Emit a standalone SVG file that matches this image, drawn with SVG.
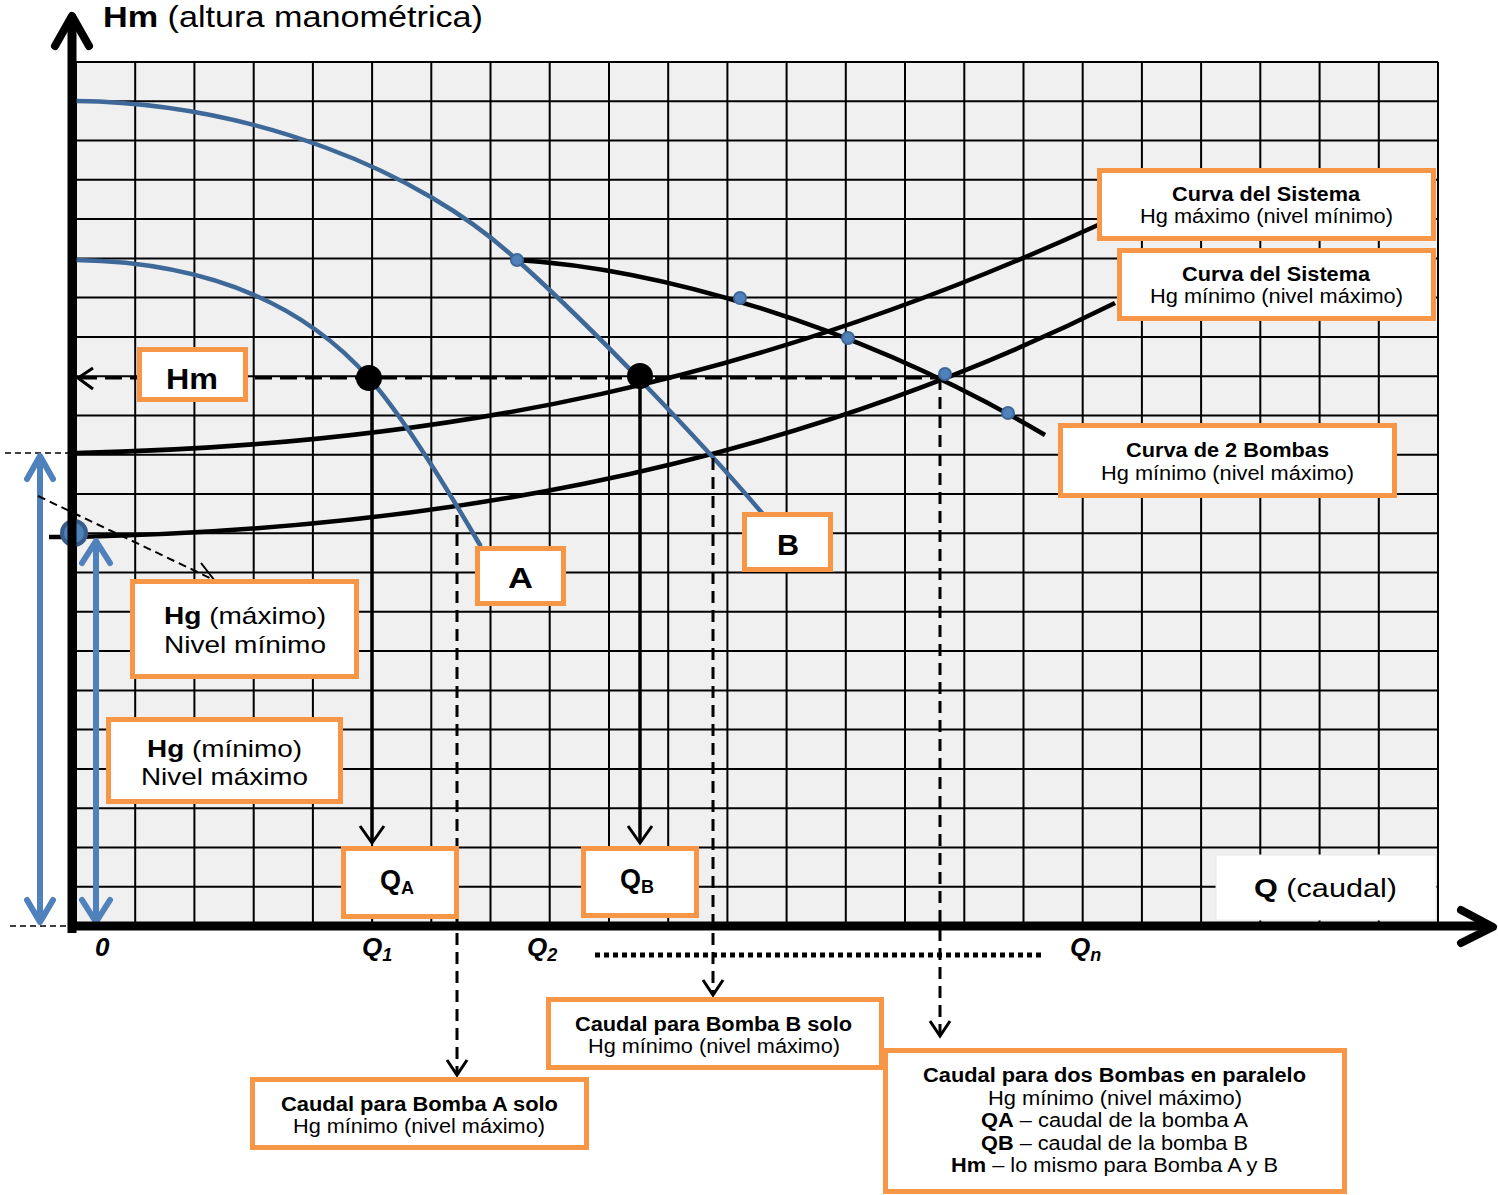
<svg xmlns="http://www.w3.org/2000/svg" width="1498" height="1195" viewBox="0 0 1498 1195">
<style>
.gl{stroke:#000;stroke-width:2;fill:none}
.pump{stroke:#3e6897;stroke-width:4.5;fill:none;stroke-linecap:round}
.sys{stroke:#000;stroke-width:4.5;fill:none}
.box{fill:#fff;stroke:#f79646;stroke-width:5}
.t{font-family:"Liberation Sans",Arial,Helvetica,sans-serif;fill:#000}
.b{font-weight:bold}
.i{font-style:italic}
.ax{stroke:#000;stroke-width:9;fill:none}
.axh{stroke:#000;stroke-width:8;fill:none;stroke-linecap:round;stroke-linejoin:round}
.dash{stroke:#000;stroke-width:3;fill:none;stroke-dasharray:12 7}
.sol{stroke:#000;stroke-width:3.5;fill:none}
.head{stroke:#000;stroke-width:3;fill:none;stroke-linejoin:miter}
.blue{stroke:#4f81bd;stroke-width:6;fill:none}
.bhead{stroke:#4f81bd;stroke-width:6;fill:none;stroke-linecap:round;stroke-linejoin:round}
.thin{stroke:#000;stroke-width:1.5;fill:none;stroke-dasharray:6 4}
.dot{fill:#4f81bd;stroke:#3e6897;stroke-width:2}
</style>
<rect width="1498" height="1195" fill="#fff"/>
<g id="grid">
<rect x="76" y="62" width="1362" height="864" fill="#f0f0f0"/>
<path class="gl" d="M76,62V926M135.2,62V926M194.4,62V926M253.7,62V926M312.9,62V926M372.1,62V926M431.3,62V926M490.5,62V926M549.7,62V926M609,62V926M668.2,62V926M727.4,62V926M786.6,62V926M845.8,62V926M905,62V926M964.3,62V926M1023.5,62V926M1082.7,62V926M1141.9,62V926M1201.1,62V926M1260.3,62V926M1319.6,62V926M1378.8,62V926M1438,62V926"/>
<path class="gl" d="M76,62H1438M76,101.3H1438M76,140.5H1438M76,179.8H1438M76,219.1H1438M76,258.4H1438M76,297.6H1438M76,336.9H1438M76,376.2H1438M76,415.5H1438M76,454.7H1438M76,494H1438M76,533.3H1438M76,572.5H1438M76,611.8H1438M76,651.1H1438M76,690.4H1438M76,729.6H1438M76,768.9H1438M76,808.2H1438M76,847.5H1438M76,886.7H1438"/>
</g>
<g id="q-caudal">
<rect x="1216" y="855" width="220" height="65" fill="#fff" stroke="#e8e8e8" stroke-width="1"/>
<text class="t" x="1254" y="897" font-size="26" textLength="143" lengthAdjust="spacingAndGlyphs"><tspan class="b">Q</tspan> (caudal)</text>
</g>
<g id="curves">
<path id="curve-sys-max" class="sys" d="M76,453 C450,445 760,380 1098,225"/>
<path id="curve-sys-min" class="sys" d="M49,537 L76,537 C400,530 760,480 1115,303"/>
<path id="curve-pump-b" class="pump" d="M76,101 C250,103 420,170 517,260 C590,325 700,440 762,513"/>
<path id="curve-pump-a" class="pump" d="M76,260 C200,262 300,300 369,378 C400,413 445,485 480,545"/>
<path id="curve-2-bombas" class="sys" d="M517,260 C650,268 850,320 1045,435"/>
</g>
<g id="connectors">
<path class="thin" d="M5,453H70M10,926H70"/>
<path class="blue" d="M40,458V920M96,543V920"/>
<path class="bhead" d="M27,479L40,456L53,479M27,900L40,922L53,900M82,563L96,541L110,563M82,900L96,922L110,900"/>
<path d="M38,496L212,579" stroke="#000" stroke-width="2" stroke-dasharray="8 5" fill="none"/>
<path d="M201,563L215,581L192,582" stroke="#000" stroke-width="2" fill="none"/>
<path d="M80,378H940" stroke="#000" stroke-width="3" stroke-dasharray="17 8" fill="none"/>
<path class="head" d="M93,368L78,378L93,389"/>
<path class="sol" d="M372,378V843M640,376V843"/>
<path class="head" d="M360,826L372,843L384,826M628,826L640,843L652,826"/>
<path class="dash" d="M457,515V1073M713,458V993M940,378V1034"/>
<path class="head" d="M447,1060L457,1075L467,1060M703,980L713,995L723,980M930,1021L940,1036L950,1021"/>
<path d="M595,955H1045" stroke="#000" stroke-width="5" stroke-dasharray="5 4" fill="none"/>
</g>
<g id="points">
<circle cx="74" cy="533" r="12" fill="#4f81bd" stroke="#385d8a" stroke-width="4"/>
<circle class="dot" cx="517" cy="260" r="6"/>
<circle class="dot" cx="740" cy="298" r="6"/>
<circle class="dot" cx="848" cy="338" r="6"/>
<circle class="dot" cx="945" cy="374" r="6"/>
<circle class="dot" cx="1008" cy="413" r="6"/>
<circle cx="369" cy="378" r="13" fill="#000"/>
<circle cx="640" cy="376" r="13" fill="#000"/>
</g>
<g id="axes">
<path class="ax" d="M72,20V933M68,926H1488"/>
<path class="axh" d="M55,46L72,16L89,46M1461,910L1493,927L1461,943"/>
<text class="t" x="103" y="27" font-size="30" textLength="380" lengthAdjust="spacingAndGlyphs"><tspan class="b">Hm</tspan> (altura manométrica)</text>
<text class="t b i" x="95" y="956" font-size="26">0</text>
<text class="t b i" x="362" y="956" font-size="26">Q<tspan font-size="18" dy="5">1</tspan></text>
<text class="t b i" x="527" y="956" font-size="26">Q<tspan font-size="18" dy="5">2</tspan></text>
<text class="t b i" x="1070" y="956" font-size="26">Q<tspan font-size="18" dy="5">n</tspan></text>
</g>
<g id="box-hm">
<rect class="box" x="139.5" y="349.5" width="106" height="50"/>
<text class="t b" x="166" y="389" font-size="30" textLength="52" lengthAdjust="spacingAndGlyphs">Hm</text>
</g>
<g id="box-hg-max">
<rect class="box" x="132.5" y="581.5" width="224" height="95"/>
<text class="t" x="164" y="624" font-size="24" textLength="162" lengthAdjust="spacingAndGlyphs"><tspan class="b">Hg</tspan> (máximo)</text>
<text class="t" x="164" y="653" font-size="24" textLength="162" lengthAdjust="spacingAndGlyphs">Nivel mínimo</text>
</g>
<g id="box-hg-min">
<rect class="box" x="108.5" y="719.5" width="232" height="82"/>
<text class="t" x="147" y="757" font-size="24" textLength="155" lengthAdjust="spacingAndGlyphs"><tspan class="b">Hg</tspan> (mínimo)</text>
<text class="t" x="141" y="785" font-size="24" textLength="167" lengthAdjust="spacingAndGlyphs">Nivel máximo</text>
</g>
<g id="box-a">
<rect class="box" x="477.5" y="548.5" width="86" height="55"/>
<text class="t b" x="508" y="588" font-size="29" textLength="25" lengthAdjust="spacingAndGlyphs">A</text>
</g>
<g id="box-b">
<rect class="box" x="744.5" y="514.5" width="86" height="55"/>
<text class="t b" x="777" y="555" font-size="29" textLength="22" lengthAdjust="spacingAndGlyphs">B</text>
</g>
<g id="box-qa">
<rect class="box" x="343.5" y="848.5" width="113" height="68"/>
<text class="t b" x="380" y="889" font-size="27">Q<tspan font-size="18" dy="5">A</tspan></text>
</g>
<g id="box-qb">
<rect class="box" x="583.5" y="848.5" width="113" height="67"/>
<text class="t b" x="620" y="888" font-size="27">Q<tspan font-size="18" dy="5">B</tspan></text>
</g>
<g id="box-sistema-max">
<rect class="box" x="1099.5" y="170.5" width="334" height="68"/>
<text class="t b" x="1172" y="201" font-size="19.5" textLength="188" lengthAdjust="spacingAndGlyphs">Curva del Sistema</text>
<text class="t" x="1140" y="223" font-size="19.5" textLength="253" lengthAdjust="spacingAndGlyphs">Hg máximo (nivel mínimo)</text>
</g>
<g id="box-sistema-min">
<rect class="box" x="1119.5" y="250.5" width="314" height="68"/>
<text class="t b" x="1182" y="281" font-size="19.5" textLength="188" lengthAdjust="spacingAndGlyphs">Curva del Sistema</text>
<text class="t" x="1150" y="303" font-size="19.5" textLength="253" lengthAdjust="spacingAndGlyphs">Hg mínimo (nivel máximo)</text>
</g>
<g id="box-2-bombas">
<rect class="box" x="1060.5" y="425.5" width="334" height="70"/>
<text class="t b" x="1126" y="457" font-size="19.5" textLength="203" lengthAdjust="spacingAndGlyphs">Curva de 2 Bombas</text>
<text class="t" x="1101" y="480" font-size="19.5" textLength="253" lengthAdjust="spacingAndGlyphs">Hg mínimo (nivel máximo)</text>
</g>
<g id="box-caudal-b">
<rect class="box" x="548.5" y="999.5" width="333" height="68"/>
<text class="t b" x="575" y="1031" font-size="19.5" textLength="277" lengthAdjust="spacingAndGlyphs">Caudal para Bomba B solo</text>
<text class="t" x="588" y="1053" font-size="19.5" textLength="252" lengthAdjust="spacingAndGlyphs">Hg mínimo (nivel máximo)</text>
</g>
<g id="box-caudal-a">
<rect class="box" x="252.5" y="1079.5" width="334" height="68"/>
<text class="t b" x="281" y="1111" font-size="19.5" textLength="277" lengthAdjust="spacingAndGlyphs">Caudal para Bomba A solo</text>
<text class="t" x="293" y="1133" font-size="19.5" textLength="252" lengthAdjust="spacingAndGlyphs">Hg mínimo (nivel máximo)</text>
</g>
<g id="box-caudal-paralelo">
<rect class="box" x="885.5" y="1050.5" width="459" height="141"/>
<text class="t b" x="923" y="1082" font-size="19.5" textLength="383" lengthAdjust="spacingAndGlyphs">Caudal para dos Bombas en paralelo</text>
<text class="t" x="988" y="1105" font-size="19.5" textLength="254" lengthAdjust="spacingAndGlyphs">Hg mínimo (nivel máximo)</text>
<text class="t" x="981" y="1127" font-size="19.5" textLength="267" lengthAdjust="spacingAndGlyphs"><tspan class="b">QA</tspan> – caudal de la bomba A</text>
<text class="t" x="981" y="1150" font-size="19.5" textLength="267" lengthAdjust="spacingAndGlyphs"><tspan class="b">QB</tspan> – caudal de la bomba B</text>
<text class="t" x="951" y="1172" font-size="19.5" textLength="327" lengthAdjust="spacingAndGlyphs"><tspan class="b">Hm</tspan> – lo mismo para Bomba A y B</text>
</g>
</svg>
